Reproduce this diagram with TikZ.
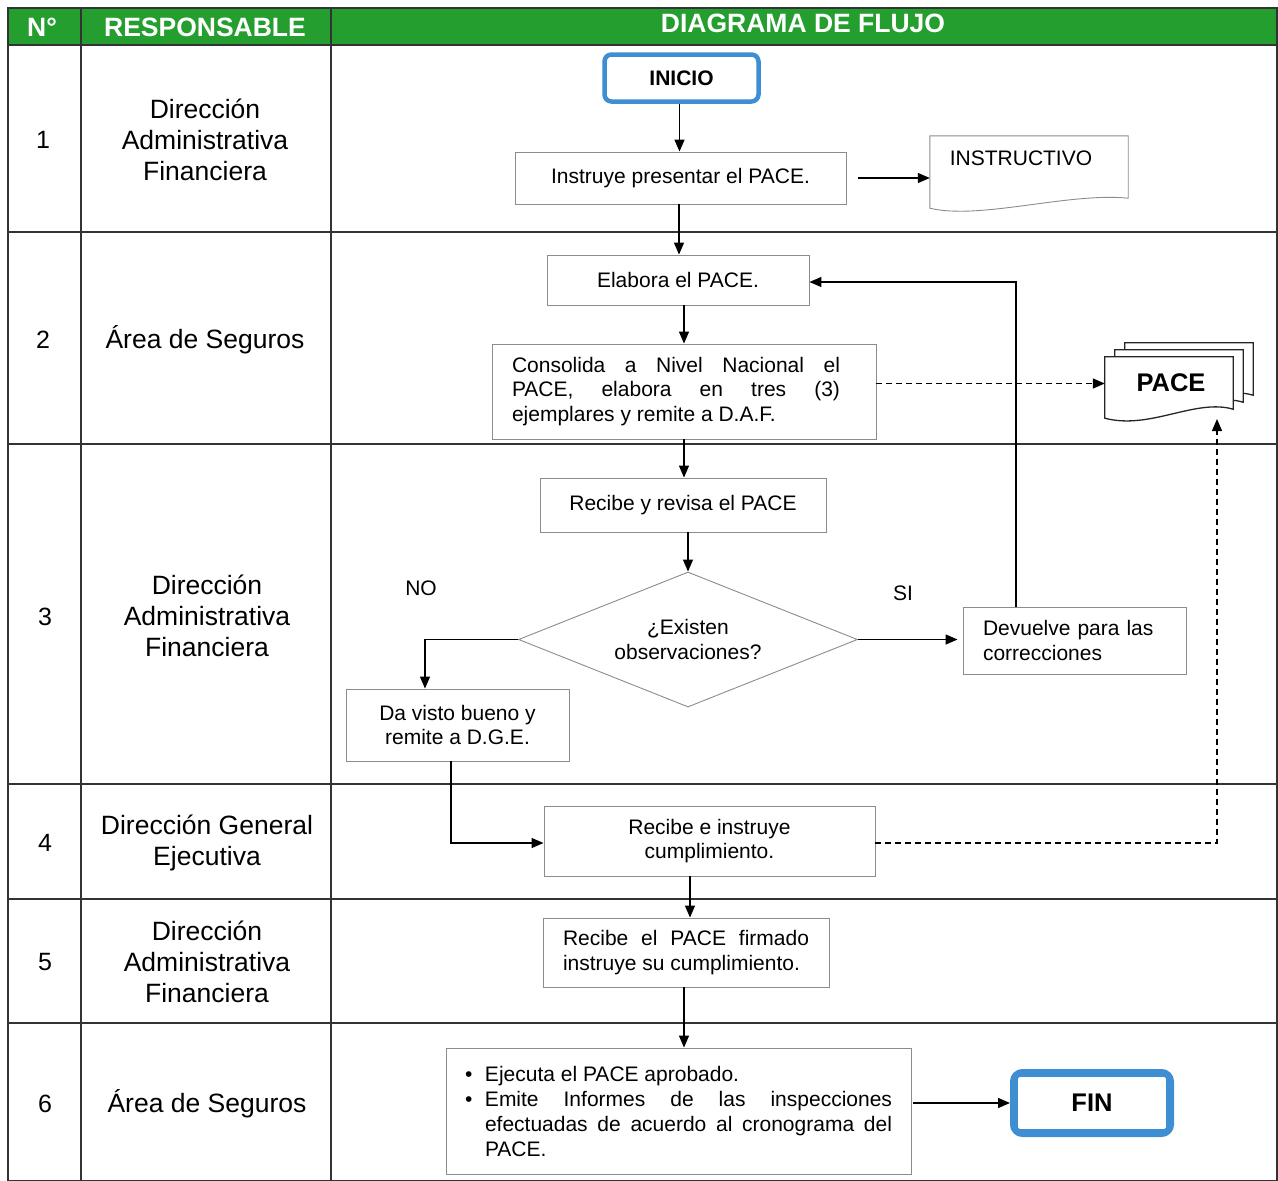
\documentclass[tikz,border=0pt]{standalone}
\usepackage{fontspec}
\setmainfont{Liberation Sans}
\usetikzlibrary{arrows.meta,shapes.geometric,calc}
\definecolor{hdrgreen}{RGB}{36,158,46}
\definecolor{fblue}{RGB}{62,142,212}
\definecolor{boxgray}{RGB}{140,140,140}
\tikzset{
  gridline/.style={draw=black!80, line width=1.1pt},
  hdr/.style={text=white, font=\fontsize{26.5}{30}\selectfont\bfseries},
  num/.style={font=\fontsize{25}{30}\selectfont},
  resp/.style={font=\fontsize{26.5}{31}\selectfont, align=center},
  proc/.style={draw=boxgray, line width=0.9pt, rectangle, inner sep=0pt, font=\fontsize{21}{24.5}\selectfont, align=center},
  docline/.style={draw=boxgray, line width=0.9pt, fill=white},
  flow/.style={line width=1.4pt, -{Triangle[length=12pt,width=10pt]}},
  dflow/.style={flow, dash pattern=on 6pt off 4pt},
  lbl/.style={font=\fontsize{21}{24}\selectfont},
}
\begin{document}
\begin{tikzpicture}[x=1pt,y=-1pt]
\useasboundingbox (0,0) rectangle (1278,1181);
% header band
\fill[hdrgreen] (8,8) rectangle (1277,45);
% grid
\draw[gridline] (8,8) rectangle (1277,1181);
\foreach \yy in {45,232,444,784,899,1023} \draw[gridline] (8,\yy) -- (1277,\yy);
\draw[gridline] (81,8) -- (81,1181);
\draw[gridline] (331,8) -- (331,1181);
% header texts
\node[hdr] (hN) at (42,27) {N°};
\node[hdr] (hR) at (205,27) {RESPONSABLE};
\node[hdr] (hD) at (803,23) {DIAGRAMA DE FLUJO};
% row labels
\node[num] (n1) at (43,140) {1};
\node[resp] (r1) at (205,140) {Dirección\\Administrativa\\Financiera};
\node[num] (n2) at (43,340) {2};
\node[resp] (r2) at (205,340) {Área de Seguros};
\node[num] (n3) at (45,617) {3};
\node[resp] (r3) at (207,616) {Dirección\\Administrativa\\Financiera};
\node[num] (n4) at (45,843) {4};
\node[resp] (r4) at (207,843) {Dirección General\\Ejecutiva};
\node[num] (n5) at (45,962) {5};
\node[resp] (r5) at (207,962) {Dirección\\Administrativa\\Financiera};
\node[num] (n6) at (45,1104) {6};
\node[resp] (r6) at (207,1104) {Área de Seguros};
% flow nodes
\node[draw=fblue, line width=4.5pt, rounded corners=7pt, minimum width=154, minimum height=47, font=\fontsize{21}{24}\selectfont\bfseries] (inicio) at (681.5,78) {INICIO};
\node[proc, minimum width=331, minimum height=52] (instr) at (680.5,178) {Instruye presentar el PACE.};
% INSTRUCTIVO document
\node[inner sep=0pt, minimum width=198, minimum height=72] (instdoc) at (1029,172) {};
\draw[docline] (instdoc.south west) -- (instdoc.north west) -- (instdoc.north east) -- ($(instdoc.south east)+(0,-10)$)
  .. controls ($(instdoc.south east)+(-60,-16)$) and ($(instdoc.south west)+(50,12)$) .. (instdoc.south west) -- cycle;
\node[lbl, anchor=center] (insttxt) at (1021,158) {INSTRUCTIVO};
\node[proc, minimum width=262, minimum height=50] (elab) at (678,280) {Elabora el PACE.};
\node[proc, minimum width=384, minimum height=95] (cons) at (684,391.5)
  {\parbox{328pt}{\fontsize{21}{24.5}\selectfont Consolida a Nivel Nacional el\linebreak PACE, elabora en tres (3)\linebreak ejemplares y remite a D.A.F.}\hspace*{16pt}};
% PACE multi-document
\node[inner sep=0pt, minimum width=128, minimum height=61] (pacedoc) at (1169,387.5) {};
\foreach \dx/\dy in {20/-14,10/-7,0/0}{
  \draw[docline, line width=1.3pt, draw=black!85] ($(pacedoc.south west)+(\dx,\dy)$) -- ($(pacedoc.north west)+(\dx,\dy)$) -- ($(pacedoc.north east)+(\dx,\dy)$) -- ($(pacedoc.south east)+(\dx,\dy-9)$)
    .. controls ($(pacedoc.south east)+(\dx-38,\dy-20)$) and ($(pacedoc.south west)+(\dx+45,\dy+12)$) .. ($(pacedoc.south west)+(\dx,\dy)$) -- cycle;
}
\node[font=\fontsize{25.5}{28}\selectfont\bfseries] (pacetxt) at (1171,383) {PACE};
\coordinate (pacetip) at (1217,419);
\node[proc, minimum width=286, minimum height=54] (rev) at (683,505) {Recibe y revisa el PACE};
\node[diamond, aspect=2.51, draw=boxgray, line width=0.9pt, inner sep=0pt, minimum width=339, minimum height=135, align=center, font=\fontsize{21}{24.5}\selectfont] (dec) at (688,639.5) {¿Existen\\observaciones?};
\node[proc, minimum width=223, minimum height=67, text width=183, align=left] (dev) at (1074.5,640.5) {Devuelve para las\\correcciones};
\node[proc, minimum width=223, minimum height=72] (visto) at (457.5,725) {Da visto bueno y\\remite a D.G.E.};
\node[proc, minimum width=331, minimum height=70] (rinst) at (709.5,841) {Recibe e instruye\\cumplimiento.};
\node[proc, minimum width=286, minimum height=69] (firm) at (686,952.5) {\parbox{246pt}{\fontsize{21}{24.5}\selectfont Recibe el PACE firmado\linebreak instruye su cumplimiento.}};
\node[proc, minimum width=465, minimum height=126] (ejec) at (678.5,1111)
  {\parbox{427pt}{\fontsize{21}{25}\selectfont\noindent\makebox[20pt][l]{\textbullet}Ejecuta el PACE aprobado.\par
   \noindent\makebox[20pt][l]{\textbullet}\parbox[t]{407pt}{Emite Informes de las inspecciones\linebreak efectuadas de acuerdo al cronograma del\linebreak PACE.}}};
\node[draw=fblue, line width=7pt, rounded corners=9pt, minimum width=157, minimum height=61, font=\fontsize{25.5}{28}\selectfont\bfseries] (fin) at (1092,1103) {FIN};
\draw[fblue, line width=1.6pt, rounded corners=2pt] ($(fin.north west)+(7,7)$) rectangle ($(fin.south east)+(-7,-7)$);
% labels
\node[lbl] (no) at (421,588) {NO};
\node[lbl] (si) at (903,593) {SI};
% connectors
\draw[flow] ([xshift=-2pt]inicio.south) -- ([xshift=-2pt]inicio.south |- instr.north);
\draw[flow] ([xshift=-1.5pt]instr.south) -- ([xshift=-1.5pt]instr.south |- elab.north);
\draw[flow, shorten <=12pt] (instr.east) -- (instr.east -| instdoc.west);
\draw[flow] (cons.north |- elab.south) -- (cons.north);
\draw[dflow] ([yshift=8pt]cons.east) -- ([yshift=8pt]cons.east -| pacedoc.west);
\draw[flow] (cons.south) -- (cons.south |- rev.north);
\draw[flow] (dec.north |- rev.south) -- (dec.north);
\draw[flow, shorten >=5pt] (dec.east) -- (dec.east -| dev.west);
\draw[flow] ([xshift=-58.5pt]dev.north) |- ([yshift=-2pt]elab.east);
\draw[flow] (dec.west) -| ([xshift=-32.5pt]visto.north);
\draw[flow] ([xshift=-6.5pt]visto.south) |- ([yshift=-2pt]rinst.west);
\draw[dflow] ([yshift=-2pt]rinst.east) -| (pacetip);
\draw[flow] (rinst.south -| 690,0) -- (firm.north -| 690,0);
\draw[flow] ([xshift=-2pt]firm.south) -- ([xshift=-2pt]firm.south |- ejec.north);
\draw[flow, shorten <=2pt] (fin.west -| ejec.east) -- (fin.west);
\end{tikzpicture}
\end{document}
